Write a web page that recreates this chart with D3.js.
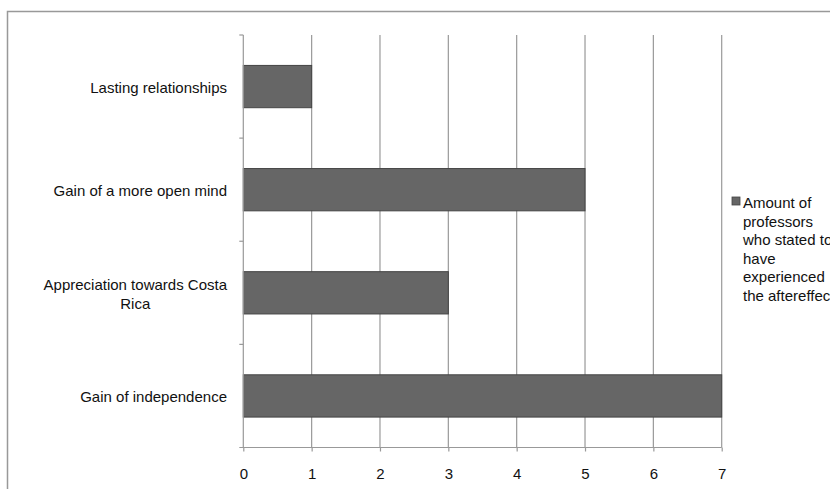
<!DOCTYPE html>
<html>
<head>
<meta charset="utf-8">
<script src="https://cdn.jsdelivr.net/npm/d3@7"></script>
<style>
  html, body { margin: 0; padding: 0; background: #fff; overflow: hidden; }
  svg { display: block; }
  text { font-family: "Liberation Sans", Arial, sans-serif; fill: #111; }
</style>
</head>
<body>
<script>
const categories = ["Lasting relationships", "Gain of a more open mind", "Appreciation towards Costa Rica", "Gain of independence"];
const values = [1, 5, 3, 7];
const xTicks = [0, 1, 2, 3, 4, 5, 6, 7];
const legendLines = ["Amount of", "professors", "who stated to", "have", "experienced", "the aftereffect"];

(function () {
const W = 830, H = 489;
const svg = d3.select("body").append("svg").attr("width", W).attr("height", H);

// outer frame
svg.append("rect").attr("x", 7.5).attr("y", 11.5).attr("width", 900).attr("height", 600)
  .attr("fill", "none").attr("stroke", "#999").attr("stroke-width", 1.5);

const pLeft = 243.3, pRight = 721.7, pTop = 35, pBottom = 447.5;
const x = d3.scaleLinear().domain([0, 7]).range([pLeft, pRight]);
const y = d3.scaleBand().domain(categories).range([pTop, pBottom]).paddingInner(0.59).paddingOuter(0.295);

// grid lines
svg.append("g").selectAll("line").data(xTicks.filter(d => d > 0)).join("line")
  .attr("x1", d => x(d)).attr("x2", d => x(d)).attr("y1", pTop).attr("y2", pBottom)
  .attr("stroke", "#999").attr("stroke-width", 1.2);

// bars
svg.append("g").selectAll("rect").data(categories).join("rect")
  .attr("x", x(0)).attr("y", d => y(d))
  .attr("width", (d, i) => x(values[i]) - x(0)).attr("height", y.bandwidth())
  .attr("fill", "#666").attr("stroke", "#444").attr("stroke-width", 1);

// x axis
const xAxis = svg.append("g").attr("transform", `translate(0,${pBottom})`)
  .call(d3.axisBottom(x).tickValues(xTicks).tickSize(4).tickSizeOuter(0).tickFormat(d3.format("d")));
xAxis.select(".domain").remove();
xAxis.append("line").attr("x1", pLeft - 4).attr("x2", pRight).attr("y1", 0).attr("y2", 0)
  .attr("stroke", "#999").attr("stroke-width", 1.2);
xAxis.selectAll(".tick line").attr("stroke", "#999").attr("stroke-width", 1.2);
xAxis.selectAll(".tick text").attr("y", 31.5).attr("dy", null)
  .attr("font-size", 15).attr("fill", "#111")
  .style("font-family", '"Liberation Sans", Arial, sans-serif');

// y axis line and ticks at band boundaries
const boundaries = d3.range(categories.length + 1).map(i => pTop + i * (pBottom - pTop) / categories.length);
const yAxis = svg.append("g");
yAxis.append("line").attr("x1", pLeft).attr("x2", pLeft).attr("y1", pTop).attr("y2", pBottom)
  .attr("stroke", "#999").attr("stroke-width", 1.2);
yAxis.selectAll("line.t").data(boundaries.slice(0, -1)).join("line").attr("class", "t")
  .attr("x1", pLeft - 4).attr("x2", pLeft).attr("y1", d => d).attr("y2", d => d)
  .attr("stroke", "#999").attr("stroke-width", 1.2);

// category labels with wrapping
const labelX = 227, maxW = 195, lh = 18.5, fs = 15;
categories.forEach(cat => {
  const cy = y(cat) + y.bandwidth() / 2;
  const t = svg.append("text").attr("font-size", fs).attr("text-anchor", "end");
  const words = cat.split(" ");
  let lines = [], cur = [];
  const probe = svg.append("text").attr("font-size", fs);
  words.forEach(w => {
    const test = cur.concat([w]).join(" ");
    probe.text(test);
    if (probe.node().getComputedTextLength() > maxW && cur.length) { lines.push(cur.join(" ")); cur = [w]; }
    else cur.push(w);
  });
  lines.push(cur.join(" "));
  const lens = lines.map(l => { probe.text(l); return probe.node().getComputedTextLength(); });
  probe.remove();
  const n = lines.length;
  const base0 = cy + 6.5 - (n - 1) * lh / 2;
  if (n === 1) {
    t.attr("x", labelX).attr("y", base0).text(lines[0]);
  } else {
    const cx = labelX - d3.max(lens) / 2;
    t.attr("text-anchor", "middle");
    lines.forEach((l, i) => t.append("tspan").attr("x", cx).attr("y", base0 + i * lh).text(l));
  }
});

// legend
const lg = svg.append("g");
lg.append("rect").attr("x", 732).attr("y", 197).attr("width", 8).attr("height", 8)
  .attr("fill", "#666").attr("stroke", "#444").attr("stroke-width", 0.8);
const lt = lg.append("text").attr("font-size", fs);
legendLines.forEach((l, i) => lt.append("tspan").attr("x", 743).attr("y", 208 + i * lh).text(l));
})();
</script>
</body>
</html>
